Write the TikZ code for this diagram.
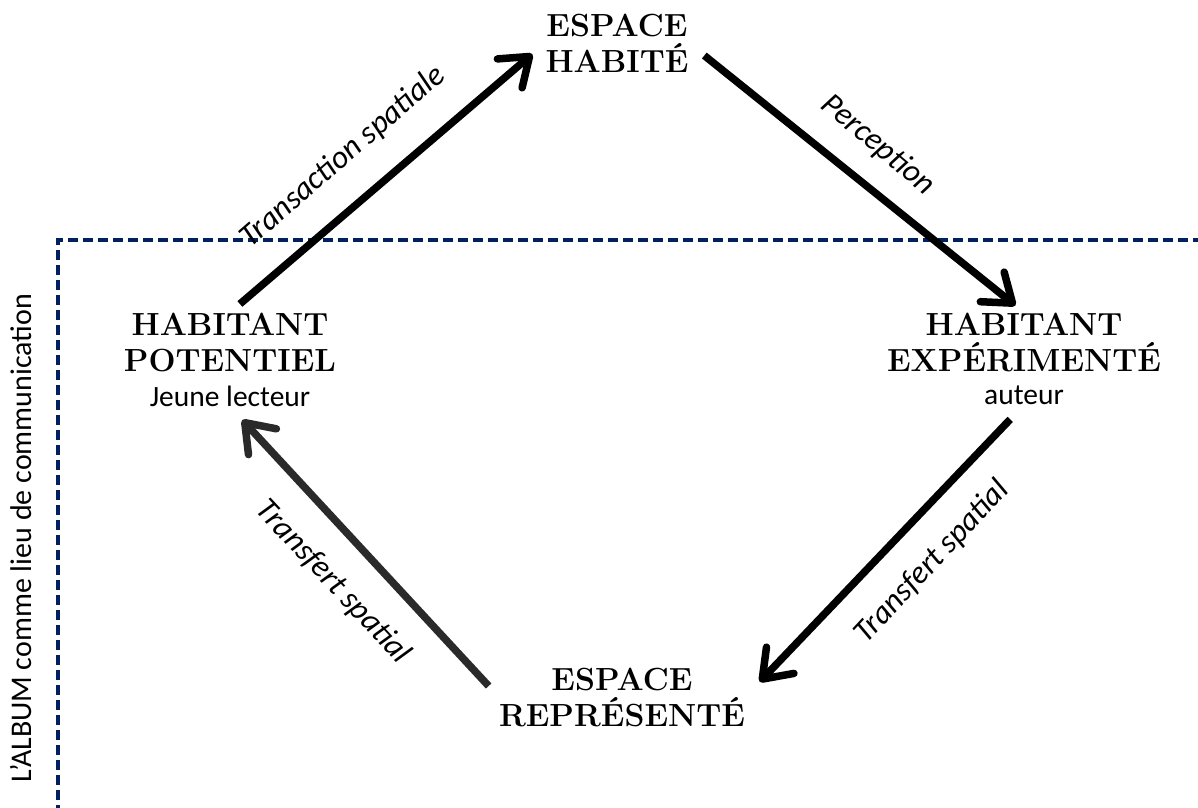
\documentclass[tikz,border=0pt]{standalone}
\usepackage{fontspec}
\newfontfamily\calibri{Carlito}
\usetikzlibrary{positioning, arrows.meta}
\definecolor{navy}{RGB}{0,32,96}
\definecolor{gris}{RGB}{42,42,42}

\tikzset{
  titre/.style={font=\fontsize{32}{36}\selectfont\bfseries, align=center, inner sep=0pt},
  soustitre/.style={font=\calibri\fontsize{29.5}{34}\selectfont, inner sep=0pt},
  etiquette/.style={font=\calibri\itshape\fontsize{32}{36}\selectfont, inner sep=0pt},
  fleche/.style={line width=7.5pt, -{Straight Barb[length=26pt, width=38pt, round]}}
}

\begin{document}
\begin{tikzpicture}[x=1pt, y=-1pt]
\useasboundingbox (0,0) rectangle (1198,807);

% cadre de l'album (ouvert vers la droite et le bas)
\draw[navy, line width=3.5pt, dash pattern=on 10pt off 5pt] (58,830) -- (58,240) -- (1220,240);
\node[font=\calibri\fontsize{30}{34}\selectfont, rotate=90] (album) at (21,538) {L’ALBUM comme lieu de communication};

\node[titre] (habite) at (617,43) {ESPACE\\HABITÉ};
\node[titre] (potentiel) at (230,342) {HABITANT\\POTENTIEL};
\node[soustitre, below=14pt of potentiel] (lecteur) {Jeune lecteur};
\node[titre] (experimente) at (1024,342) {HABITANT\\EXPÉRIMENTÉ};
\node[soustitre, below=14pt of experimente] (auteur) {auteur};
\node[titre] (represente) at (622,697) {ESPACE\\REPRÉSENTÉ};

\draw[fleche, shorten <=13pt, shorten >=17pt] (potentiel.north) -- (habite.west);
\draw[fleche, shorten <=20pt, shorten >=11pt] (habite.east) -- (experimente.north);
\draw[fleche, shorten <=20pt, shorten >=21pt] (auteur.south) -- (represente.east);
\draw[fleche, gris, shorten <=15pt, shorten >=18pt] (represente.west) -- (lecteur.south);

\node[etiquette, rotate=41] (transaction) at (343,157) {Transaction spatiale};
\node[etiquette, rotate=-40] (perception) at (878,145) {Perception};
\node[etiquette, rotate=47] (transfertd) at (932,562) {Transfert spatial};
\node[etiquette, rotate=-47] (transfertg) at (333,582) {Transfert spatial};
\end{tikzpicture}
\end{document}
